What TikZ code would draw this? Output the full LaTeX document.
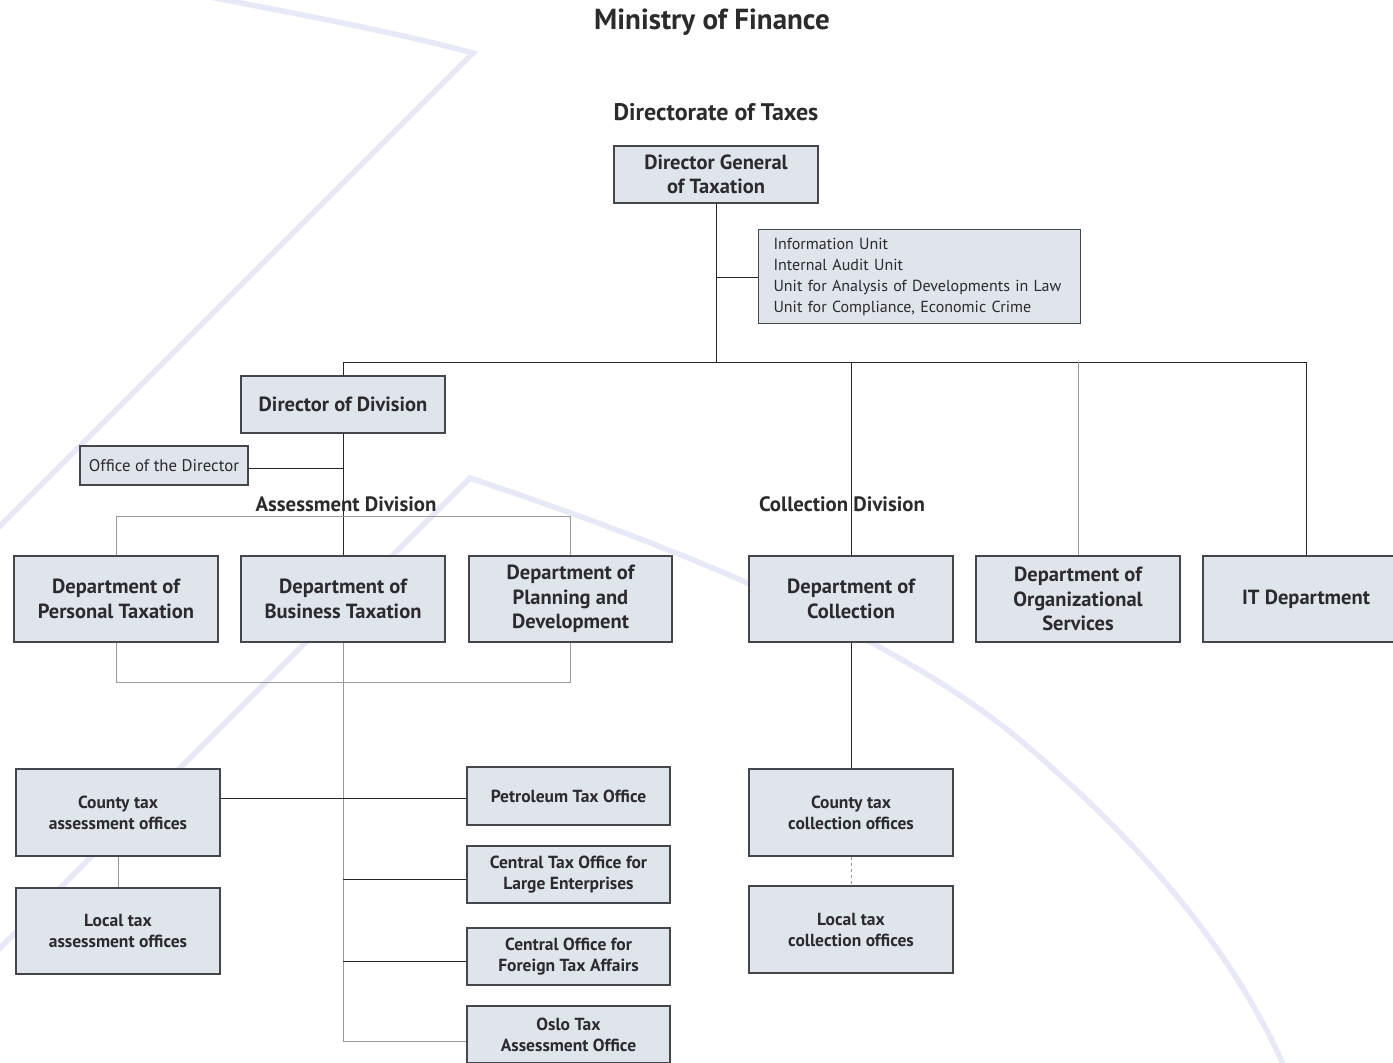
\documentclass[tikz,border=0pt]{standalone}
\usepackage{fontspec}
\setmainfont{PT Sans}
\usetikzlibrary{calc}
\definecolor{boxfill}{HTML}{E0E4EB}
\definecolor{boxline}{HTML}{44464C}
\definecolor{txt}{HTML}{2B2B2E}
\definecolor{lav}{HTML}{E8E9F6}
\definecolor{lightline}{HTML}{9A9A9A}
\tikzset{
  box/.style={draw=boxline, fill=boxfill, line width=1.1pt, inner sep=0pt, align=center, text=txt, font=\fontsize{20.5}{24.5}\selectfont\bfseries},
  bigbox/.style={box, minimum width=204pt, minimum height=86pt},
  smallbox/.style={box, minimum width=203pt, minimum height=57pt, font=\fontsize{17.5}{21}\selectfont\bfseries},
  midbox/.style={box, minimum width=204pt, minimum height=87pt, font=\fontsize{17.5}{21}\selectfont\bfseries},
  heading/.style={text=txt, inner sep=0pt, font=\fontsize{24}{28}\selectfont\bfseries},
  dark/.style={draw=black!85, line width=0.9pt},
  light/.style={draw=lightline, line width=0.8pt},
  deco/.style={draw=lav, line width=5.5pt, line join=miter}
}
\begin{document}
\begin{tikzpicture}[x=1pt, y=-1pt]
\useasboundingbox (0,0) rectangle (1393,1063);
\clip (0,0) rectangle (1393,1063);
% background decoration
\draw[deco] (120,-20) .. controls (250,5) and (380,28) .. (473,53) -- (-20,546);
\draw[deco] (-20,968) -- (470,478) .. controls (700,555) and (900,640) .. (1020,740)
  .. controls (1150,850) and (1240,960) .. (1290,1080);
% titles
\node[heading, font=\fontsize{29}{34}\selectfont\bfseries] (title) at (712,22) {Ministry of Finance};
\node[heading] (dirtax) at (716,112) {Directorate of Taxes};
% top
\node[box, minimum width=204pt, minimum height=57pt] (dg) at (716,174.5) {Director General\\of Taxation};
\node[box, anchor=north west, align=left, text width=292pt, inner xsep=15pt, minimum height=94pt,
      font=\fontsize{16}{21}\selectfont] (units) at (758,229)
  {Information Unit\\Internal Audit Unit\\Unit for Analysis of Developments in Law\\Unit for Compliance, Economic Crime};
\node[box, minimum width=204pt, minimum height=57pt] (dod) at (343,404.5) {Director of Division};
\node[box, minimum width=168pt, minimum height=39pt, font=\fontsize{16.8}{20}\selectfont] (office) at (164,465.5) {Office of the Director};
% departments
\node[bigbox] (ppt) at (116,599) {Department of\\Personal Taxation};
\node[bigbox] (pbt) at (343,599) {Department of\\Business Taxation};
\node[bigbox, minimum width=203pt] (ppd) at (570.5,599) {Department of\\Planning and\\Development};
\node[bigbox] (pcol) at (851,599) {Department of\\Collection};
\node[bigbox] (porg) at (1078,599) {Department of\\Organizational\\Services};
\node[bigbox, minimum width=206pt] (pit) at (1306,599) {IT Department};
% local offices
\node[midbox] (cta) at (118,812.5) {County tax\\assessment offices};
\node[midbox, minimum height=86pt] (lta) at (118,931) {Local tax\\assessment offices};
\node[smallbox, minimum height=58pt] (pet) at (568.5,796) {Petroleum Tax Office};
\node[smallbox] (ctl) at (568.5,874.5) {Central Tax Office for\\Large Enterprises};
\node[smallbox] (cof) at (568.5,956.5) {Central Office for\\Foreign Tax Affairs};
\node[smallbox] (oslo) at (568.5,1034.5) {Oslo Tax\\Assessment Office};
\node[midbox] (ctc) at (851,812.5) {County tax\\collection offices};
\node[midbox] (ltc) at (851,929.5) {Local tax\\collection offices};
% division labels
\node[heading, font=\fontsize{20.8}{24}\selectfont\bfseries] (asdiv) at (346,504) {Assessment Division};
\node[heading, font=\fontsize{20.8}{24}\selectfont\bfseries] (coldiv) at (842,504) {Collection Division};
% connectors
\coordinate (bus) at (342,362);
\draw[dark] (dg.south) -- (dg.south |- bus);
\draw[dark] ($(dg.south |- units.west)+(0,1)$) -- ($(units.west)+(0,1)$);
\draw[dark] (dod.north) -- (dod.north |- bus) -- (pit.north |- bus) -- (pit.north);
\draw[dark] (pcol.north |- bus) -- (pcol.north);
\draw[light] (porg.north |- bus) -- (porg.north);
\draw[dark] (dod.south) -- (pbt.north);
\draw[dark] ($(office.east)+(0,3)$) -- ($(office.east -| dod.south)+(0,3)$);
\draw[light] (ppt.north) -- ++(0,-39) -| (ppd.north);
\draw[light] (ppt.south) -- ++(0,40) -| (ppd.south);
\draw[light] (pbt.south) -- ($(pbt.south |- oslo.west)+(0,7)$) -- ($(oslo.west)+(0,7)$);
\draw[dark] ($(pet.west)+(0,2)$) -- ($(pet.west -| cta.east)+(0,2)$);
\draw[dark] ($(ctl.west)+(0,5)$) -- ($(ctl.west -| pbt.south)+(0,5)$);
\draw[dark] ($(cof.west)+(0,5)$) -- ($(cof.west -| pbt.south)+(0,5)$);
\draw[light] (cta.south) -- (lta.north);
\draw[dark] (pcol.south) -- (ctc.north);
\draw[light, dashed] (ctc.south) -- (ltc.north);
\end{tikzpicture}
\end{document}
